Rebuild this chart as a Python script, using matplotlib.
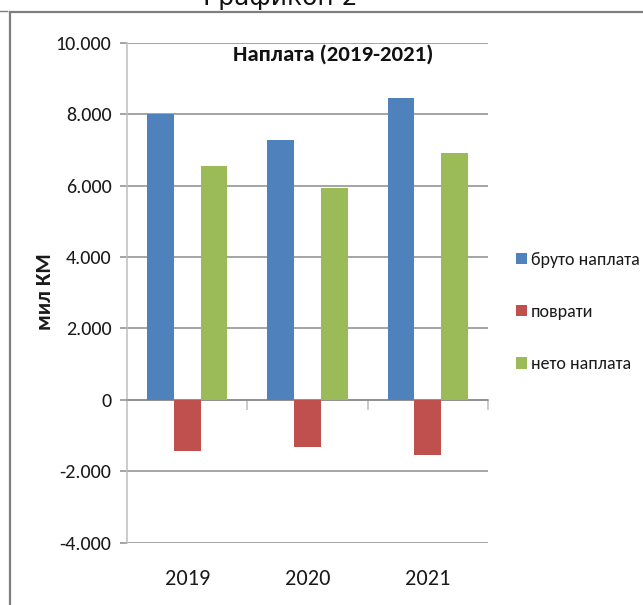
import matplotlib
matplotlib.use("Agg")
import matplotlib.pyplot as plt
from matplotlib.lines import Line2D
from matplotlib.ticker import FixedLocator, FuncFormatter
import matplotlib.transforms as mtransforms
import numpy as np

# Data (thousand KM)
years = ["2019", "2020", "2021"]
bruto = [8000, 7265, 8450]
povrati = [-1420, -1310, -1540]
neto = [6545, 5940, 6920]
series_names = ["бруто наплата", "поврати", "нето наплата"]
yticks = [-4000, -2000, 0, 2000, 4000, 6000, 8000, 10000]

colors = ["#4F81BD", "#C0504D", "#9BBB59"]
grid_col = "#8C8C8C"
axis_col = "#BDBDBD"
text_col = "#1a1a1a"
font = ["Carlito", "DejaVu Sans"]

W, H = 643, 605
fig = plt.figure(figsize=(W / 100, H / 100), dpi=100)
fig.patch.set_facecolor("white")

# plot area in pixels
left_px, right_px, top_px, bot_px = 127, 488, 42.7, 542.7
ax = fig.add_axes([left_px / W, 1 - bot_px / H,
                   (right_px - left_px) / W, (bot_px - top_px) / H])

x = np.arange(len(years))
bw = 1 / 4.5
for i, (vals, c, name) in enumerate(zip([bruto, povrati, neto], colors, series_names)):
    ax.bar(x + (i - 1) * bw, vals, width=bw, color=c, label=name, zorder=3,
           linewidth=0)

ax.set_xlim(-0.5, len(years) - 0.5)
ax.set_ylim(min(yticks), max(yticks))

# y axis: ticks, labels and gridlines
ax.yaxis.set_major_locator(FixedLocator(yticks))
ax.yaxis.set_major_formatter(
    FuncFormatter(lambda v, p: f"{int(v):,}".replace(",", ".")))
ax.tick_params(axis="y", direction="out", length=5.2, width=1.1,
               color=grid_col, pad=6, labelsize=14.5, labelcolor=text_col)
for lab in ax.get_yticklabels():
    lab.set_family(font)
ax.yaxis.grid(True, color=grid_col, linewidth=1.1, zorder=0)
ax.set_axisbelow(True)

for s in ["top", "right"]:
    ax.spines[s].set_visible(False)
ax.spines["left"].set_color(axis_col)
ax.spines["left"].set_linewidth(1.1)

# category axis drawn at zero
ax.spines["bottom"].set_position(("data", 0))
ax.spines["bottom"].set_color(grid_col)
ax.spines["bottom"].set_linewidth(1.1)
ax.set_xticks(np.arange(len(years)) + 0.5)
ax.set_xticklabels([])
ax.tick_params(axis="x", direction="out", length=7.2, width=1.1, color=axis_col)

trans = mtransforms.blended_transform_factory(ax.transData, ax.transAxes)
lab_y = (bot_px - 579) / (bot_px - top_px)
for xi, yr in zip(x, years):
    ax.text(xi, lab_y, yr, transform=trans, ha="center", va="center",
            fontsize=16, family=font, color=text_col)

# value axis title
fig.text(45 / W, 1 - 292 / H, "мил КМ", rotation=90, ha="center", va="center",
         fontsize=16, fontweight="bold", family=font, color=text_col)

# chart title
fig.text(333 / W, 1 - 55 / H, "Наплата (2019-2021)", ha="center", va="center",
         fontsize=16.5, fontweight="bold", family=font, color="#111111")

# legend
leg = fig.legend(loc="center left", bbox_to_anchor=(516 / W, 1 - 312 / H),
                 frameon=False, prop={"family": font, "size": 13},
                 handlelength=0.62, handleheight=0.62, handletextpad=0.2,
                 labelspacing=2.0, borderpad=0, borderaxespad=0)
for t in leg.get_texts():
    t.set_color(text_col)

# caption above the frame
fig.text(203 / W, 1 - 5 / H, "Графикон 2", ha="left", va="baseline",
         fontsize=18, family="DejaVu Sans", color="#111111")

# chart frame
frame_col = "#7F7F7F"
fig.add_artist(Line2D([10 / W, 1.01], [1 - 12 / H, 1 - 12 / H],
                      transform=fig.transFigure, color=frame_col, linewidth=1.6))
fig.add_artist(Line2D([10 / W, 10 / W], [1 - 12 / H, -0.01],
                      transform=fig.transFigure, color=frame_col, linewidth=1.6))
fig.add_artist(Line2D([0, 7 / W], [1 - 10.5 / H, 1 - 10.5 / H],
                      transform=fig.transFigure, color=frame_col, linewidth=1.0))

fig.savefig("out.png", dpi=100, facecolor="white")
